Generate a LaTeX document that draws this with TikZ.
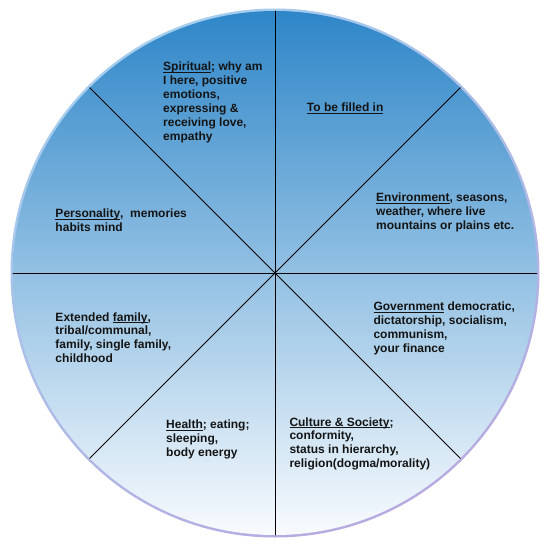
\documentclass[tikz,border=0pt]{standalone}
\usepackage{fontspec}
\setmainfont{Liberation Sans}
\usetikzlibrary{positioning}
\definecolor{whlTop}{HTML}{2E86C8}
\definecolor{whlMid}{HTML}{8EBFE3}
\definecolor{whlLow}{HTML}{F8FBFE}
\definecolor{whlRimA}{HTML}{A4CDEE}
\definecolor{whlRimB}{HTML}{B7AAE0}
\definecolor{whlInk}{HTML}{141414}
\newcommand{\uword}[1]{\setbox0\hbox{#1}\rlap{\rule[-2pt]{\wd0}{0.7pt}}\box0\relax}
\tikzset{
  whl diagram/.style={x=1pt, y=-1pt, line cap=round},
  whl spoke/.style={draw=black, line width=0.8pt},
  % anchored at the baseline of the last line
  whl label/.style={anchor=base west, align=left, inner sep=0pt, text=whlInk,
    font=\fontsize{12}{13.9}\selectfont\bfseries}
}

\begin{document}
\begin{tikzpicture}[whl diagram]
\useasboundingbox[fill=white] (0,0) rectangle (550,550);
\coordinate (hub) at (275,273);
% rim and face
\shade[top color=whlRimA, bottom color=whlRimB, shading angle=30] (hub) circle (264.5);
\shade[top color=whlTop, middle color=whlMid, bottom color=whlLow] (hub) circle (262);
% spokes
\foreach \a in {0,45,...,315}
  \draw[whl spoke] (hub) -- ++(\a:262);
% segment texts
\node[whl label] (spiritual) at (163,140) {\uword{Spiritual}; why am\\I here, positive\\emotions,\\expressing \&\\receiving love,\\empathy};
\node[whl label] (filled) at (306.7,111.5) {\uword{To be filled in}};
\node[whl label] (environment) at (376,229.5) {\uword{Environment}, seasons,\\weather, where live\\mountains or plains etc.};
\node[whl label] (personality) at (55.3,231.7) {\uword{Personality},\ \ memories\\habits mind};
\node[whl label] (extended) at (55.3,362.7) {Extended \uword{family},\\tribal/communal,\\family, single family,\\childhood};
\node[whl label] (government) at (373.3,352.3) {\uword{Government} democratic,\\dictatorship, socialism,\\communism,\\your finance};
\node[whl label] (health) at (166,456) {\uword{Health}; eating;\\sleeping,\\body energy};
\node[whl label] (culture) at (289.3,467.7) {\uword{Culture \& Society};\\conformity,\\status in hierarchy,\\religion(dogma/morality)};
\end{tikzpicture}
\end{document}
